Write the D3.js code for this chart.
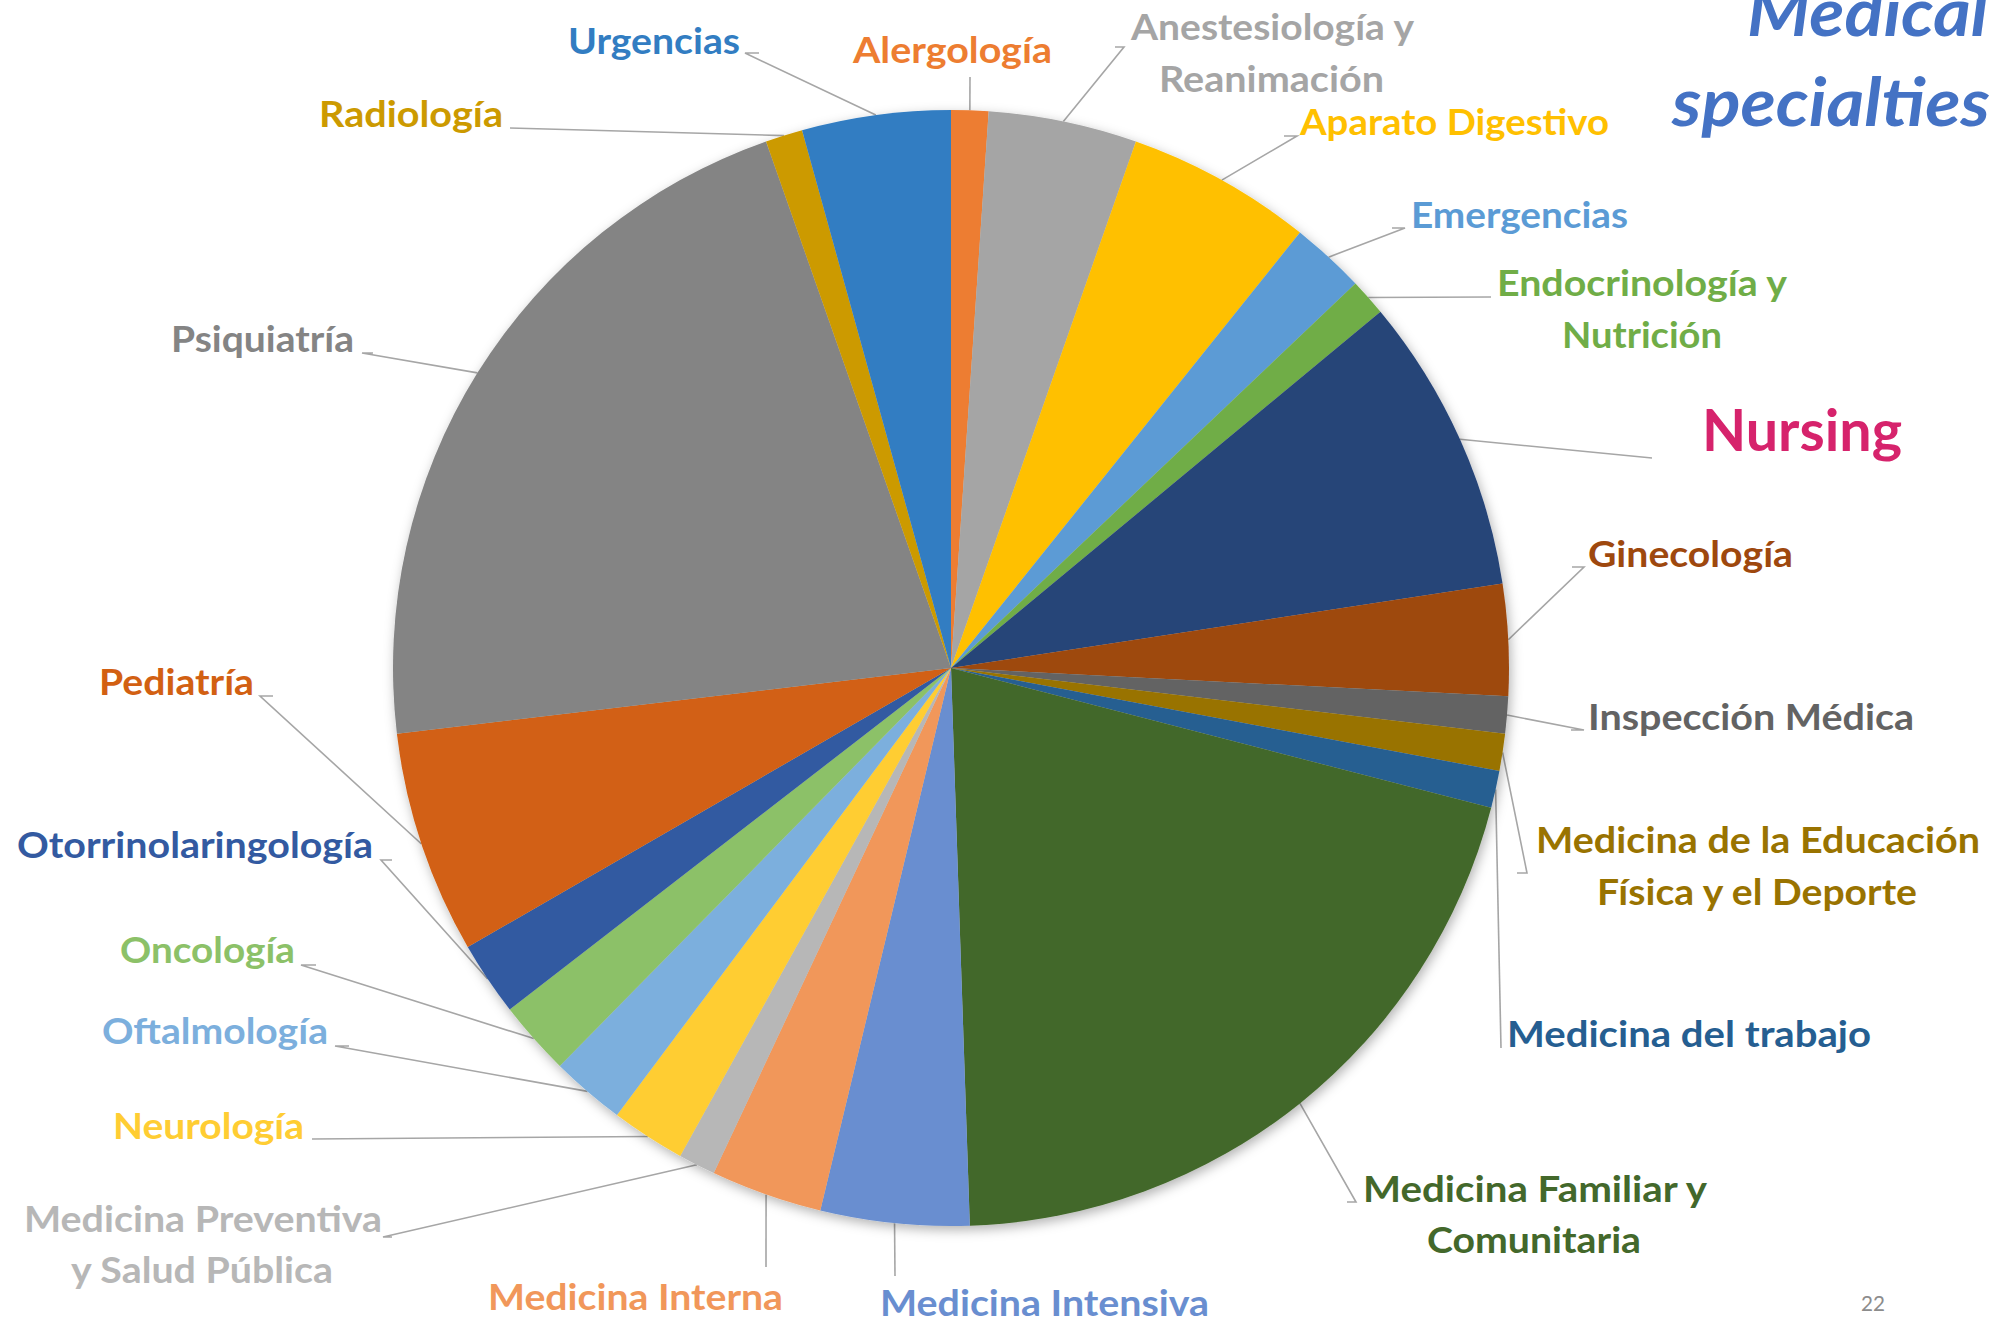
<!DOCTYPE html>
<html>
<head>
<meta charset="utf-8">
<script src="https://cdn.jsdelivr.net/npm/d3@7"></script>
<style>
  html, body { margin: 0; padding: 0; background: #ffffff; }
  svg { display: block; }
  text { font-family: Lato, "Open Sans", "DejaVu Sans", sans-serif; font-weight: 700; }
</style>
</head>
<body>
<svg id="chart" width="2007" height="1326"></svg>
<script>
// ---------------- DATA ----------------
const categories = [
  "Alergología", "Anestesiología y Reanimación", "Aparato Digestivo", "Emergencias",
  "Endocrinología y Nutrición", "Nursing", "Ginecología", "Inspección Médica",
  "Medicina de la Educación Física y el Deporte", "Medicina del trabajo",
  "Medicina Familiar y Comunitaria", "Medicina Intensiva", "Medicina Interna",
  "Medicina Preventiva y Salud Pública", "Neurología", "Oftalmología", "Oncología",
  "Otorrinolaringología", "Pediatría", "Psiquiatría", "Radiología", "Urgencias"
];
const values = [1, 4, 5, 2, 1, 8, 3, 1, 1, 1, 19, 4, 3, 1, 2, 2, 2, 2, 6, 20, 1, 4];
const labelLines = [
  ["Alergología"], ["Anestesiología y", "Reanimación"], ["Aparato Digestivo"], ["Emergencias"],
  ["Endocrinología y", "Nutrición"], ["Nursing"], ["Ginecología"], ["Inspección Médica"],
  ["Medicina de la Educación", "Física y el Deporte"], ["Medicina del trabajo"],
  ["Medicina Familiar y", "Comunitaria"], ["Medicina Intensiva"], ["Medicina Interna"],
  ["Medicina Preventiva", "y Salud Pública"], ["Neurología"], ["Oftalmología"], ["Oncología"],
  ["Otorrinolaringología"], ["Pediatría"], ["Psiquiatría"], ["Radiología"], ["Urgencias"]
];
const titleLines = ["Medical", "specialties"];
const pageNumber = "22";

// ---------------- STYLE / LAYOUT ----------------
const sliceColors = [
  "#ED7D31", "#A5A5A5", "#FFC000", "#5B9BD5", "#70AD47", "#264478", "#9E480E", "#636363",
  "#997300", "#255E91", "#43682B", "#698ED0", "#F1975A", "#B7B7B7", "#FFCD33", "#7CAFDD",
  "#8CC168", "#335AA1", "#D26012", "#848484", "#CC9A00", "#327DC2"
];
const labelColors = sliceColors.map((c, i) => categories[i] === "Nursing" ? "#D6236C" : c);

// per label: text line boxes [left x, baseline y, width] and leader elbow points (outer end first)
const labelLayout = [
  { lines: [[853, 63, 199]], pts: [[970, 77]] },
  { lines: [[1131, 40, 283], [1159, 92, 225]], pts: [[1124, 47], [1115, 47]] },
  { lines: [[1300, 135, 309]], pts: [[1297, 136], [1284, 136]] },
  { lines: [[1411, 228, 217]], pts: [[1405, 228], [1392, 228]] },
  { lines: [[1497, 296, 290], [1562, 348, 160]], pts: [[1491, 297]] },
  { lines: [[1702, 451, 200]], pts: [[1652, 458]], size: 57 },
  { lines: [[1588, 567, 205]], pts: [[1584, 567], [1572, 567]] },
  { lines: [[1588, 730, 326]], pts: [[1584, 730], [1571, 730]] },
  { lines: [[1536, 853, 444], [1597, 905, 320]], pts: [[1527, 873], [1517, 873]] },
  { lines: [[1507, 1047, 364]], pts: [[1501, 1048]] },
  { lines: [[1363, 1202, 344], [1427, 1253, 214]], pts: [[1356, 1202], [1347, 1202]] },
  { lines: [[880, 1316, 329]], pts: [[895, 1276]] },
  { lines: [[488, 1310, 295]], pts: [[766, 1267]] },
  { lines: [[24, 1232, 358], [71, 1283, 262]], pts: [[383, 1237], [392, 1237]] },
  { lines: [[113, 1139, 191]], pts: [[312, 1139]] },
  { lines: [[102, 1044, 226]], pts: [[335, 1046], [349, 1046]] },
  { lines: [[120, 963, 175]], pts: [[301, 965], [316, 965]] },
  { lines: [[17, 858, 356]], pts: [[381, 860], [392, 860]] },
  { lines: [[99, 695, 155]], pts: [[260, 696], [273, 696]] },
  { lines: [[171, 352, 183]], pts: [[362, 353], [373, 353]] },
  { lines: [[319, 127, 184]], pts: [[510, 128]] },
  { lines: [[568, 54, 172]], pts: [[745, 53], [759, 53]] }
];

const cx = 951, cy = 668, R = 558;
const svg = d3.select("#chart");

const defs = svg.append("defs");
const f = defs.append("filter").attr("id", "shadow")
  .attr("x", "-10%").attr("y", "-10%").attr("width", "120%").attr("height", "120%");
f.append("feDropShadow").attr("dx", 2).attr("dy", 4).attr("stdDeviation", 6)
  .attr("flood-color", "#000").attr("flood-opacity", 0.3);

const pie = d3.pie().sort(null).value(d => d).startAngle(0).endAngle(2 * Math.PI);
const arcs = pie(values);
const arc = d3.arc().innerRadius(0).outerRadius(R);
const rimArc = d3.arc().innerRadius(R).outerRadius(R);

// leader lines (under the pie edge)
const lines = svg.append("g").attr("fill", "none").attr("stroke", "#A6A6A6").attr("stroke-width", 1.6);
arcs.forEach((a, i) => {
  const c = rimArc.centroid(a);
  const p = [[cx + c[0], cy + c[1]]].concat(labelLayout[i].pts);
  lines.append("path").attr("d", d3.line()(p));
});

const g = svg.append("g").attr("transform", `translate(${cx},${cy})`).attr("filter", "url(#shadow)");
g.selectAll("path").data(arcs).join("path")
  .attr("d", arc)
  .attr("fill", (d, i) => sliceColors[i]);

// labels
const lab = svg.append("g");
labelLayout.forEach((L, i) => {
  L.lines.forEach((ln, j) => {
    lab.append("text")
      .attr("x", ln[0]).attr("y", ln[1])
      .attr("font-size", L.size || 36)
      .attr("fill", labelColors[i])
      .attr("textLength", ln[2])
      .attr("lengthAdjust", "spacingAndGlyphs")
      .text(labelLines[i][j]);
  });
});

// title
const titleLayout = [[1747, 36, 241], [1672, 126, 318]];
titleLines.forEach((t, j) => {
  svg.append("text")
    .attr("x", titleLayout[j][0]).attr("y", titleLayout[j][1])
    .attr("font-size", 67).attr("font-style", "italic")
    .attr("fill", "#4472C4")
    .attr("textLength", titleLayout[j][2]).attr("lengthAdjust", "spacingAndGlyphs")
    .text(t);
});

svg.append("text")
  .attr("x", 1861).attr("y", 1311)
  .attr("font-size", 22).attr("font-weight", 400)
  .style("font-weight", 400)
  .attr("fill", "#8C8C8C")
  .attr("textLength", 24).attr("lengthAdjust", "spacingAndGlyphs")
  .text(pageNumber);
</script>
</body>
</html>
